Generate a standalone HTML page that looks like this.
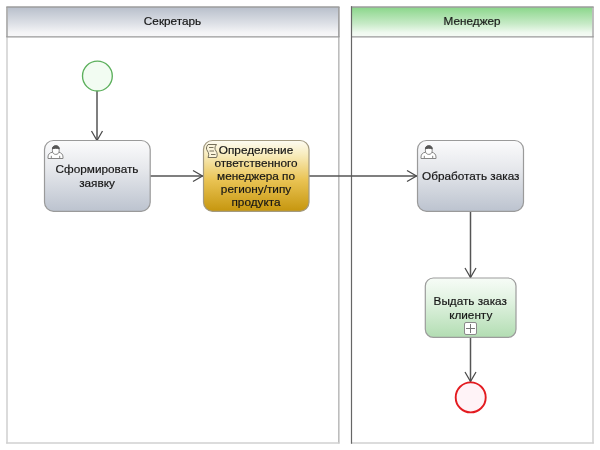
<!DOCTYPE html>
<html><head><meta charset="utf-8">
<style>
html,body{margin:0;padding:0;background:#fff;width:600px;height:450px;overflow:hidden}
svg{display:block;will-change:transform}
text{font-family:"Liberation Sans",sans-serif;fill:#151515;stroke:#151515;stroke-width:0.18px}
</style></head><body>
<svg width="600" height="450" viewBox="0 0 600 450">
<defs>
<linearGradient id="hdrGray" x1="0" y1="0" x2="0" y2="1">
<stop offset="0" stop-color="#b8bfcb"/><stop offset="0.55" stop-color="#dde0e6"/><stop offset="0.85" stop-color="#f4f4f6"/><stop offset="1" stop-color="#f8f8f9"/>
</linearGradient>
<linearGradient id="hdrGreen" x1="0" y1="0" x2="0" y2="1">
<stop offset="0" stop-color="#8ad68a"/><stop offset="0.55" stop-color="#c6eac6"/><stop offset="0.85" stop-color="#eff9ef"/><stop offset="1" stop-color="#f6fbf6"/>
</linearGradient>
<linearGradient id="taskGray" x1="0" y1="0" x2="0" y2="1">
<stop offset="0" stop-color="#fbfbfc"/><stop offset="0.4" stop-color="#e6e8ec"/><stop offset="1" stop-color="#bcc3cf"/>
</linearGradient>
<linearGradient id="taskGold" x1="0" y1="0" x2="0" y2="1">
<stop offset="0" stop-color="#fdfbf1"/><stop offset="0.2" stop-color="#f8ecbd"/><stop offset="0.55" stop-color="#eac455"/><stop offset="1" stop-color="#c6960e"/>
</linearGradient>
<linearGradient id="taskGreen" x1="0" y1="0" x2="0" y2="1">
<stop offset="0" stop-color="#f7fcf7"/><stop offset="0.4" stop-color="#e0f2e0"/><stop offset="1" stop-color="#b2ddb2"/>
</linearGradient>
</defs>

<!-- Lane 1 -->
<rect x="7" y="7" width="331.8" height="30" fill="url(#hdrGray)"/>
<rect x="351.5" y="7" width="241.5" height="30" fill="url(#hdrGreen)"/>
<g fill="none">
<line x1="7" y1="7" x2="7" y2="443.5" stroke="#d2d2d2" stroke-width="1.6"/>
<line x1="7" y1="7" x2="7" y2="37" stroke="#a6a6a6" stroke-width="1.4"/>
<line x1="338.8" y1="7" x2="338.8" y2="443.5" stroke="#bdbdbd" stroke-width="1.6"/>
<line x1="338.8" y1="7" x2="338.8" y2="37" stroke="#a0a0a0" stroke-width="1.4"/>
<line x1="6.2" y1="443" x2="339.6" y2="443" stroke="#d0d0d0" stroke-width="1.6"/>
<line x1="6.3" y1="7" x2="339.5" y2="7" stroke="#9c9c9c" stroke-width="1.4"/>
<line x1="6.3" y1="36.9" x2="339.5" y2="36.9" stroke="#9a9a9a" stroke-width="1.4"/>

<line x1="593" y1="7" x2="593" y2="443.5" stroke="#d2d2d2" stroke-width="1.6"/>
<line x1="593" y1="7" x2="593" y2="37" stroke="#b4b4b4" stroke-width="1.4"/>
<line x1="351" y1="443" x2="593.8" y2="443" stroke="#d0d0d0" stroke-width="1.6"/>
<line x1="351" y1="7" x2="593.7" y2="7" stroke="#9c9c9c" stroke-width="1.4"/>
<line x1="351" y1="36.9" x2="593.7" y2="36.9" stroke="#9a9a9a" stroke-width="1.4"/>
<line x1="351.5" y1="6.3" x2="351.5" y2="443.7" stroke="#666" stroke-width="1.2"/>
</g>
<text transform="translate(172.5,25.3) scale(1.07,1)" x="0" y="0" text-anchor="middle" font-size="11">Секретарь</text>
<text transform="translate(472,25.3) scale(1.07,1)" x="0" y="0" text-anchor="middle" font-size="11">Менеджер</text>

<!-- flows -->
<g stroke="#555" stroke-width="1.5" fill="none">
<line x1="97" y1="91" x2="97" y2="140"/>
<line x1="150" y1="176" x2="203" y2="176"/>
<line x1="309" y1="176" x2="417" y2="176"/>
<line x1="470.5" y1="211" x2="470.5" y2="277.5"/>
<line x1="470.5" y1="337.5" x2="470.5" y2="382"/>
</g>
<g stroke="#4a4a4a" stroke-width="1.25" fill="none" stroke-linejoin="miter">
<polyline points="91.5,131 97,140.5 102.5,131"/>
<polyline points="193,170.5 202.5,176 193,181.5"/>
<polyline points="407,170.5 416.5,176 407,181.5"/>
<polyline points="465,268 470.5,277.5 476,268"/>
<polyline points="465,372 470.5,381.5 476,372"/>
</g>

<!-- start event -->
<circle cx="97.4" cy="76.1" r="14.9" fill="#f2fcf2" stroke="#5cb05c" stroke-width="1.35"/>

<!-- task 1 -->
<rect x="44.5" y="140.5" width="105.7" height="70.8" rx="9" ry="9" fill="url(#taskGray)" stroke="#9a9a9a" stroke-width="1.2"/>
<g transform="translate(0,0)" fill="none" stroke="#858585" stroke-width="1">
<path d="M48,158.5 L48,157 C48,154.3 49.8,152.6 52.3,152.3 L58.7,152.3 C61.2,152.6 63,154.3 63,157 L63,158.5 Z" fill="#fff"/>
<path d="M52.4,149.8 C52.4,146.9 53.8,145.8 55.8,145.8 C57.8,145.8 59.2,146.9 59.2,149.8 L59.2,150.8 C59.2,153 57.8,154.4 55.8,154.4 C53.8,154.4 52.4,153 52.4,150.8 Z" fill="#fff"/>
<path d="M52.4,148.9 C52.4,146.7 53.8,145.8 55.8,145.8 C57.8,145.8 59.2,146.7 59.2,148.9 C57.5,148 54.1,148 52.4,148.9 Z" fill="#555" stroke="#555"/>
<line x1="51.3" y1="155.8" x2="51.3" y2="158.5"/>
<line x1="59.7" y1="155.8" x2="59.7" y2="158.5"/>
</g>
<text transform="translate(97,173) scale(1.07,1)" x="0" y="0" text-anchor="middle" font-size="11">Сформировать</text>
<text transform="translate(97,186.5) scale(1.07,1)" x="0" y="0" text-anchor="middle" font-size="11">заявку</text>

<!-- task 2 -->
<rect x="203.5" y="140.5" width="105.5" height="70.8" rx="9" ry="9" fill="url(#taskGold)" stroke="#a39a80" stroke-width="1.2"/>
<g fill="none" stroke="#76705c" stroke-width="1">
<path d="M208,144.5 L216.5,144.5 C214.5,147 214.5,149 216,151 C217.5,153 217.5,155.5 216.5,157.5 L208,157.5 C209,155.5 209,153 207.5,151 C206,149 206,147 208,144.5 Z" fill="#fbf5dc"/>
<line x1="209" y1="147.5" x2="213.5" y2="147.5"/>
<line x1="209.5" y1="151" x2="214" y2="151"/>
<line x1="211" y1="154.5" x2="215.5" y2="154.5"/>
</g>
<text transform="translate(256,154) scale(1.07,1)" x="0" y="0" text-anchor="middle" font-size="11">Определение</text>
<text transform="translate(256,167) scale(1.07,1)" x="0" y="0" text-anchor="middle" font-size="11">ответственного</text>
<text transform="translate(256,180) scale(1.07,1)" x="0" y="0" text-anchor="middle" font-size="11">менеджера по</text>
<text transform="translate(256,193) scale(1.07,1)" x="0" y="0" text-anchor="middle" font-size="11">региону/типу</text>
<text transform="translate(256,206) scale(1.07,1)" x="0" y="0" text-anchor="middle" font-size="11">продукта</text>

<!-- task 3 -->
<rect x="417.5" y="140.5" width="106" height="70.8" rx="9" ry="9" fill="url(#taskGray)" stroke="#9a9a9a" stroke-width="1.2"/>
<g transform="translate(373,0)" fill="none" stroke="#858585" stroke-width="1">
<path d="M48,158.5 L48,157 C48,154.3 49.8,152.6 52.3,152.3 L58.7,152.3 C61.2,152.6 63,154.3 63,157 L63,158.5 Z" fill="#fff"/>
<path d="M52.4,149.8 C52.4,146.9 53.8,145.8 55.8,145.8 C57.8,145.8 59.2,146.9 59.2,149.8 L59.2,150.8 C59.2,153 57.8,154.4 55.8,154.4 C53.8,154.4 52.4,153 52.4,150.8 Z" fill="#fff"/>
<path d="M52.4,148.9 C52.4,146.7 53.8,145.8 55.8,145.8 C57.8,145.8 59.2,146.7 59.2,148.9 C57.5,148 54.1,148 52.4,148.9 Z" fill="#555" stroke="#555"/>
<line x1="51.3" y1="155.8" x2="51.3" y2="158.5"/>
<line x1="59.7" y1="155.8" x2="59.7" y2="158.5"/>
</g>
<text transform="translate(470.8,180) scale(1.07,1)" x="0" y="0" text-anchor="middle" font-size="11">Обработать заказ</text>

<!-- task 4 -->
<rect x="425.3" y="278" width="90.7" height="59.3" rx="8" ry="8" fill="url(#taskGreen)" stroke="#9c9c9c" stroke-width="1.2"/>
<text transform="translate(470.2,305) scale(1.07,1)" x="0" y="0" text-anchor="middle" font-size="11">Выдать заказ</text>
<text transform="translate(470.7,318.5) scale(1.07,1)" x="0" y="0" text-anchor="middle" font-size="11">клиенту</text>

<rect x="464.5" y="322.5" width="12" height="12" rx="1.5" fill="#fff" stroke="#8a8a8a" stroke-width="1"/>
<line x1="470.5" y1="324" x2="470.5" y2="333" stroke="#777" stroke-width="1"/>
<line x1="466" y1="328.5" x2="475" y2="328.5" stroke="#777" stroke-width="1"/>

<!-- end event -->
<circle cx="470.7" cy="397.4" r="15" fill="#fff3f7" stroke="#e31b20" stroke-width="1.9"/>

</svg>
</body></html>
